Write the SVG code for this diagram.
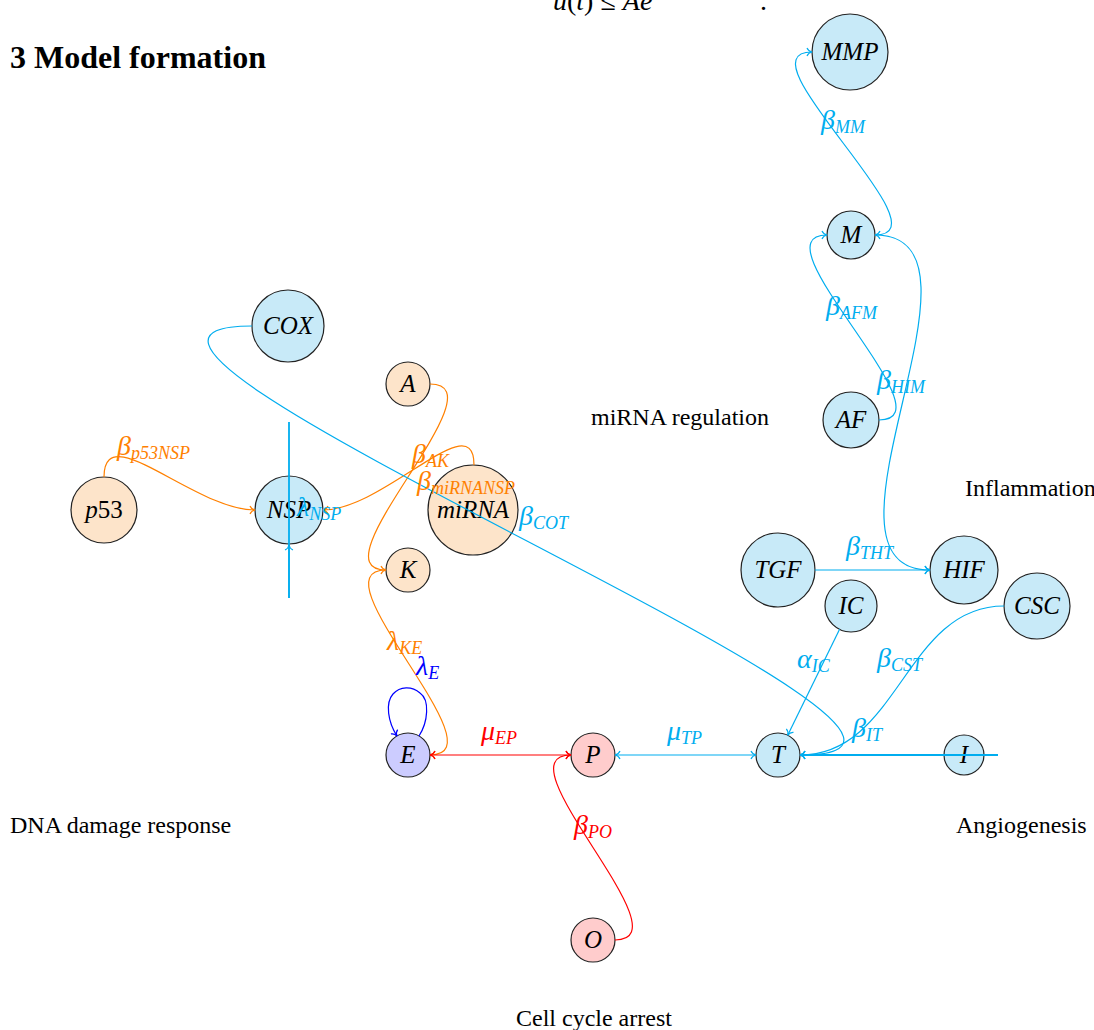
<svg xmlns="http://www.w3.org/2000/svg" width="1094" height="1030" viewBox="0 0 1094 1030">
<style>
.n{stroke:#222;stroke-width:1.2}
.o{fill:#fde4ca}.b{fill:#c8eaf8}.v{fill:#ccccff}.r{fill:#ffcccc}
.nl{font-family:"Liberation Serif",serif;font-style:italic;font-size:25px;fill:#000;text-anchor:middle}
.e{fill:none;stroke-width:1.2}
.eo{stroke:#ff8000}.ec{stroke:#00adef}.er{stroke:#ff0000}.eb{stroke:#0000ff}
.lab{font-family:"Liberation Serif",serif;font-style:italic;font-size:28px}
.sub{font-size:18px}
.lo{fill:#ff8000}.lc{fill:#00adef}.lr{fill:#ff0000}.lb{fill:#0000ff}
.sec{font-family:"Liberation Serif",serif;font-size:24px;fill:#000}
</style>
<defs>
<marker id="ao" viewBox="-6 -5 7 10" refX="0" refY="0" markerWidth="7" markerHeight="10" markerUnits="userSpaceOnUse" orient="auto-start-reverse"><path d="M-5,-4 C-4,-1.5 -1.5,-0.3 0,0 C-1.5,0.3 -4,1.5 -5,4" fill="none" stroke="#ff8000" stroke-width="1.2"/></marker>
<marker id="ac" viewBox="-6 -5 7 10" refX="0" refY="0" markerWidth="7" markerHeight="10" markerUnits="userSpaceOnUse" orient="auto-start-reverse"><path d="M-5,-4 C-4,-1.5 -1.5,-0.3 0,0 C-1.5,0.3 -4,1.5 -5,4" fill="none" stroke="#00adef" stroke-width="1.2"/></marker>
<marker id="ar" viewBox="-6 -5 7 10" refX="0" refY="0" markerWidth="7" markerHeight="10" markerUnits="userSpaceOnUse" orient="auto-start-reverse"><path d="M-5,-4 C-4,-1.5 -1.5,-0.3 0,0 C-1.5,0.3 -4,1.5 -5,4" fill="none" stroke="#ff0000" stroke-width="1.2"/></marker>
<marker id="ab" viewBox="-6 -5 7 10" refX="0" refY="0" markerWidth="7" markerHeight="10" markerUnits="userSpaceOnUse" orient="auto-start-reverse"><path d="M-5,-4 C-4,-1.5 -1.5,-0.3 0,0 C-1.5,0.3 -4,1.5 -5,4" fill="none" stroke="#0000ff" stroke-width="1.2"/></marker>
</defs>
<rect width="1094" height="1030" fill="#fff"/>

<g id="texts">
<text x="553" y="10" font-family="Liberation Serif,serif" font-size="28" fill="#000"><tspan font-style="italic">u</tspan>(<tspan font-style="italic">t</tspan>) ≤ <tspan font-style="italic">Ae</tspan></text>
<text x="760" y="10" font-family="Liberation Serif,serif" font-size="28" fill="#000">.</text>
<text x="10" y="68" font-family="Liberation Serif,serif" font-size="32" font-weight="bold" fill="#000">3 Model formation</text>
<text class="sec" x="591" y="425">miRNA regulation</text>
<text class="sec" x="965" y="496">Inflammation</text>
<text class="sec" x="10" y="833">DNA damage response</text>
<text class="sec" x="956" y="833">Angiogenesis</text>
<text class="sec" x="516" y="1026">Cell cycle arrest</text>
</g>

<g id="node-MMP"><circle class="n b" cx="850" cy="52" r="38"/><text class="nl" x="850" y="60">MMP</text></g>
<g id="node-M"><circle class="n b" cx="851" cy="235" r="24"/><text class="nl" x="851" y="243">M</text></g>
<g id="node-AF"><circle class="n b" cx="851" cy="420" r="28"/><text class="nl" x="851" y="428">AF</text></g>
<g id="node-COX"><circle class="n b" cx="288" cy="326" r="36"/><text class="nl" x="288" y="334">COX</text></g>
<g id="node-A"><circle class="n o" cx="408" cy="384" r="22"/><text class="nl" x="408" y="392">A</text></g>
<g id="node-p53"><circle class="n o" cx="104" cy="510" r="33"/><text class="nl" x="104" y="518"><tspan>p</tspan><tspan font-style="normal">53</tspan></text></g>
<g id="node-NSP"><circle class="n b" cx="289" cy="510" r="34"/><text class="nl" x="289" y="518">NSP</text></g>
<g id="node-miRNA"><circle class="n o" cx="473" cy="510" r="45"/><text class="nl" x="473" y="518">miRNA</text></g>
<g id="node-K"><circle class="n o" cx="408" cy="570" r="22"/><text class="nl" x="408" y="578">K</text></g>
<g id="node-TGF"><circle class="n b" cx="778" cy="570" r="37"/><text class="nl" x="778" y="578">TGF</text></g>
<g id="node-HIF"><circle class="n b" cx="964" cy="570" r="34"/><text class="nl" x="964" y="578">HIF</text></g>
<g id="node-IC"><circle class="n b" cx="851" cy="606" r="26"/><text class="nl" x="851" y="614">IC</text></g>
<g id="node-CSC"><circle class="n b" cx="1037" cy="606" r="33"/><text class="nl" x="1037" y="614">CSC</text></g>
<g id="node-E"><circle class="n v" cx="408" cy="755" r="22"/><text class="nl" x="408" y="763">E</text></g>
<g id="node-P"><circle class="n r" cx="593" cy="755" r="22"/><text class="nl" x="593" y="763">P</text></g>
<g id="node-T"><circle class="n b" cx="778" cy="755" r="22"/><text class="nl" x="778" y="763">T</text></g>
<g id="node-I"><circle class="n b" cx="964" cy="755" r="20"/><text class="nl" x="964" y="763">I</text></g>
<g id="node-O"><circle class="n r" cx="593" cy="940" r="22"/><text class="nl" x="593" y="948">O</text></g>

<g id="connectors">
<path class="e eo" d="M104,477 C104,416.5 194.5,510 255,510" marker-end="url(#ao)"/>
<path class="e eo" d="M430,384 C504.8,384 311.2,570 386,570" marker-end="url(#ao)"/>
<path class="e eo" d="M474,465 C474,403.7 384.3,510 323,510" marker-end="url(#ao)"/>
<path class="e eo" d="M386,570 C311.6,570 504.4,755 430,755" marker-end="url(#ao)"/>
<path class="e eb" d="M419,736 C428,722 430,700 420,693 C412,686 400,686 393,694 C385,703 388,722 397,736" marker-end="url(#ab)"/>
<path class="e er" d="M430,755 L571,755" marker-start="url(#ar)" marker-end="url(#ar)"/>
<path class="e er" d="M615,940 C689.4,940 496.6,755 571,755" marker-end="url(#ar)"/>
<path class="e ec" d="M252,326 C-20,326 1072,755 800,755" marker-end="url(#ac)"/>
<path class="e ec" d="M289,598 L289,422" style="stroke-width:1.8"/>
<path class="e ec" d="M289,598 L289,545" marker-end="url(#ac)"/>
<path class="e ec" d="M756,755 L615,755" marker-start="url(#ac)" marker-end="url(#ac)"/>
<path class="e ec" d="M998,755 L800,755" style="stroke-width:1.8"/>
<path class="e ec" d="M960,755 L800,755" marker-end="url(#ac)"/>
<path class="e ec" d="M839.6,629.3 L787.7,735.2" marker-end="url(#ac)"/>
<path class="e ec" d="M1004,606 C905,606 899,755 800,755" marker-end="url(#ac)"/>
<path class="e ec" d="M815,570 L930,570" marker-end="url(#ac)"/>
<path class="e ec" d="M875,235 C1008,235 797,570 930,570" marker-end="url(#ac)"/>
<path class="e ec" d="M875,235 C951,235 736,52 812,52" marker-start="url(#ac)" marker-end="url(#ac)"/>
<path class="e ec" d="M879,420 C954,420 752,235 827,235" marker-end="url(#ac)"/>
</g>

<g id="labels">
<text class="lab lo" x="117" y="455">β<tspan class="sub" dy="4">p53NSP</tspan></text>
<text class="lab lc" x="297" y="516">λ<tspan class="sub" dy="4">NSP</tspan></text>
<text class="lab lo" x="412" y="463">β<tspan class="sub" dy="4">AK</tspan></text>
<text class="lab lo" x="417" y="490">β<tspan class="sub" dy="4">miRNANSP</tspan></text>
<text class="lab lc" x="519" y="525">β<tspan class="sub" dy="4">COT</tspan></text>
<text class="lab lo" x="387" y="650">λ<tspan class="sub" dy="4">KE</tspan></text>
<text class="lab lb" x="416" y="675">λ<tspan class="sub" dy="4">E</tspan></text>
<text class="lab lr" x="481" y="740">μ<tspan class="sub" dy="4">EP</tspan></text>
<text class="lab lc" x="667" y="740">μ<tspan class="sub" dy="4">TP</tspan></text>
<text class="lab lr" x="574" y="834">β<tspan class="sub" dy="4">PO</tspan></text>
<text class="lab lc" x="797" y="668">α<tspan class="sub" dy="4">IC</tspan></text>
<text class="lab lc" x="877" y="667">β<tspan class="sub" dy="4">CST</tspan></text>
<text class="lab lc" x="852" y="737">β<tspan class="sub" dy="4">IT</tspan></text>
<text class="lab lc" x="846" y="555">β<tspan class="sub" dy="4">THT</tspan></text>
<text class="lab lc" x="821" y="129">β<tspan class="sub" dy="4">MM</tspan></text>
<text class="lab lc" x="826" y="315">β<tspan class="sub" dy="4">AFM</tspan></text>
<text class="lab lc" x="877" y="389">β<tspan class="sub" dy="4">HIM</tspan></text>
</g>
</svg>
